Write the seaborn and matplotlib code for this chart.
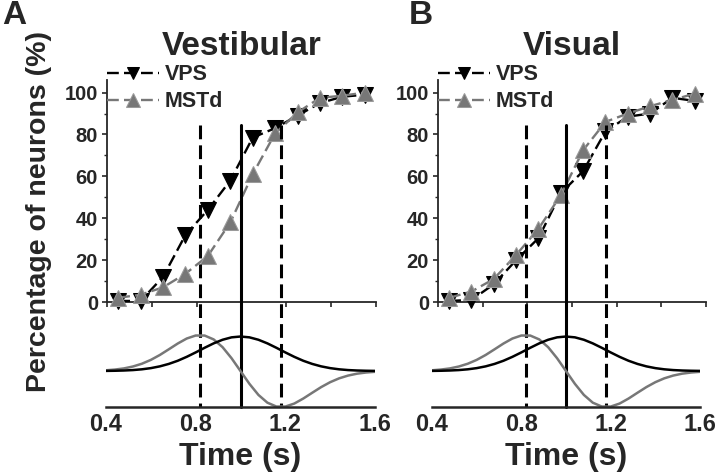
import matplotlib
matplotlib.use('Agg')
import numpy as np
import pandas as pd
import matplotlib.pyplot as plt
import seaborn as sns

# bin centres (s) and cumulative percentage of neurons
time = [0.45, 0.55, 0.65, 0.75, 0.85, 0.95, 1.05, 1.15, 1.25, 1.35, 1.45, 1.55]
vest_vps = [0.5, 0.5, 12, 32, 44, 58, 78.5, 83, 89, 95, 98, 99]
vest_mstd = [2, 3.5, 7, 13.5, 22, 38, 61, 80.5, 90.5, 97.5, 98.5, 100]
vis_vps = [0.5, 1, 8.5, 20, 30.5, 52, 62.5, 81.5, 88.5, 90, 97.5, 96]
vis_mstd = [2, 5, 11, 22.5, 35, 51, 72.5, 86, 90, 93.5, 96.5, 99.5]

# stimulus profiles (normalised)
curve_t = [0.40, 0.44, 0.48, 0.52, 0.56, 0.60, 0.64, 0.68, 0.72, 0.76, 0.80,
           0.84, 0.88, 0.92, 0.96, 1.00, 1.04, 1.08, 1.12, 1.16, 1.20, 1.24,
           1.28, 1.32, 1.36, 1.40, 1.44, 1.48, 1.52, 1.56, 1.60]
velocity = [0.004, 0.008, 0.015, 0.027, 0.048, 0.081, 0.130, 0.198, 0.286, 0.395, 0.518,
            0.647, 0.769, 0.870, 0.937, 0.960, 0.937, 0.870, 0.769, 0.647, 0.518, 0.395,
            0.286, 0.198, 0.130, 0.081, 0.048, 0.027, 0.015, 0.008, 0.004]
acceleration = [0.021, 0.041, 0.073, 0.126, 0.203, 0.310, 0.446, 0.604, 0.765, 0.904, 0.988,
                0.987, 0.880, 0.664, 0.357, 0.0, -0.357, -0.664, -0.880, -0.987, -0.988, -0.904,
                -0.765, -0.604, -0.446, -0.310, -0.203, -0.126, -0.073, -0.041, -0.021]

# vertical reference lines: acceleration peak, velocity peak, deceleration peak
ref_times = [0.82, 1.0, 1.18]
ref_styles = [(0, (4.5, 2)), '-', (0, (4.5, 2))]

panels = [
    {'letter': 'A', 'title': 'Vestibular', 'vps': vest_vps, 'mstd': vest_mstd,
     'upper': [107, 376], 'lower': [106, 375], 'letter_x': 2},
    {'letter': 'B', 'title': 'Visual', 'vps': vis_vps, 'mstd': vis_mstd,
     'upper': [438, 706], 'lower': [432, 700], 'letter_x': 409},
]

sns.set_style('ticks')
plt.rcParams['font.family'] = ['Liberation Sans', 'DejaVu Sans']
plt.rcParams['font.weight'] = 'bold'

W, H = 720, 472
gray = '#777777'
fig = plt.figure(figsize=(7.2, 4.72), dpi=100)

for p in panels:
    # upper axes: cumulative curves
    x0, x1 = p['upper']
    ax = fig.add_axes([x0 / W, (H - 302) / H, (x1 - x0) / W, (302 - 80) / H])
    df = pd.DataFrame({'time': time, 'VPS': p['vps'], 'MSTd': p['mstd']})
    sns.lineplot(data=df, x='time', y='VPS', ax=ax, color='black', marker='v',
                 markersize=11, markeredgecolor='black', linestyle=(0, (5, 2.2)),
                 linewidth=1.7, label='VPS', clip_on=False, zorder=4, errorbar=None)
    sns.lineplot(data=df, x='time', y='MSTd', ax=ax, color=gray, marker='^',
                 markersize=12, markeredgecolor='#9a9a9a', linestyle=(0, (5, 2.2)),
                 linewidth=1.7, label='MSTd', clip_on=False, zorder=5, errorbar=None)
    ax.set_xlim(0.4, 1.6)
    ax.set_ylim(0, 106)
    ax.set_yticks(np.arange(0, 101, 20))
    ax.set_yticks(np.arange(10, 100, 20), minor=True)
    ax.set_xticks(np.arange(0.4, 1.61, 0.2))
    ax.tick_params(axis='x', length=3.5, width=1.2, labelbottom=False)
    ax.tick_params(axis='y', which='major', length=3.5, width=1.2, pad=3, labelsize=14.5)
    ax.tick_params(axis='y', which='minor', length=2, width=1)
    ax.set_xlabel('')
    ax.set_ylabel('')
    for s in ['top', 'right']:
        ax.spines[s].set_visible(False)
    for s in ['left', 'bottom']:
        ax.spines[s].set_linewidth(1.3)
    ax.patch.set_visible(False)
    ax.set_title(p['title'], fontsize=24, fontweight='bold', pad=18)
    ax.legend(loc='upper left', bbox_to_anchor=(0.0, 1.07), frameon=False,
              handlelength=2.4, handletextpad=0.3, labelspacing=0.28, borderpad=0,
              borderaxespad=0, markerscale=0.8, prop={'weight': 'bold', 'size': 15.5})

    # lower axes: stimulus profiles
    x0, x1 = p['lower']
    axb = fig.add_axes([x0 / W, (H - 407) / H, (x1 - x0) / W, (407 - 302) / H])
    sns.lineplot(x=curve_t, y=acceleration, ax=axb, color=gray, linewidth=1.8)
    sns.lineplot(x=curve_t, y=velocity, ax=axb, color='black', linewidth=1.8)
    axb.set_xlim(0.4, 1.6)
    axb.set_ylim(-1, 1.92)
    axb.set_yticks([])
    axb.set_xticks([0.4, 0.8, 1.2, 1.6])
    axb.set_xticklabels(['0.4', '0.8', '1.2', '1.6'])
    axb.tick_params(axis='x', length=0, pad=4.5, labelsize=17)
    for s in ['top', 'right', 'left']:
        axb.spines[s].set_visible(False)
    axb.spines['bottom'].set_linewidth(1.8)
    axb.patch.set_visible(False)
    axb.set_xlabel('Time (s)', fontsize=23, fontweight='bold', labelpad=4)
    # reference lines drawn from the top down so the dashes start at the top
    for xv, ls in zip(ref_times, ref_styles):
        axb.plot([xv, xv], [(407 - 125) / 105, 0], transform=axb.get_xaxis_transform(),
                 clip_on=False, color='black', linewidth=2.2, linestyle=ls, zorder=1)

    fig.text(p['letter_x'] / W, 1.0, p['letter'], fontsize=24, fontweight='bold',
             ha='left', va='top')

fig.text(39 / W, 1 - 211 / H, 'Percentage of neurons (%)', rotation=90, fontsize=20.5,
         fontweight='bold', ha='center', va='center')

fig.savefig('out.png', dpi=100)
